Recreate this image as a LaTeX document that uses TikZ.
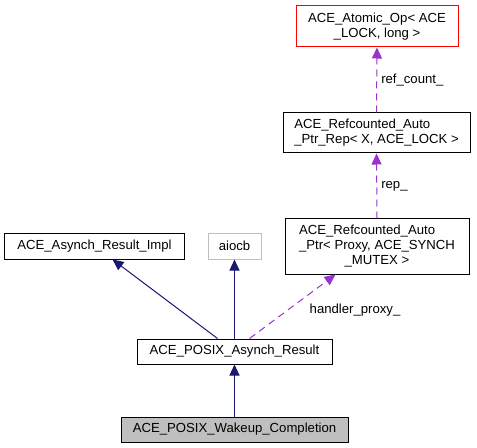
\documentclass[tikz,border=0pt]{standalone}
\usepackage{fontspec}
\setmainfont{Liberation Sans}
\usetikzlibrary{arrows.meta}
\definecolor{edgeblue}{HTML}{191970}
\definecolor{edgepurple}{HTML}{9A32CD}
\definecolor{boxgray}{HTML}{BFBFBF}
\begin{document}
\begin{tikzpicture}[x=1bp,y=-1bp,
  every node/.style={font=\fontsize{13.2}{15}\selectfont},
  cls/.style={draw=black,line width=1bp,fill=white,inner sep=0pt,minimum width=#1,align=center},
  inh/.style={draw=edgeblue,line width=1bp,-{Triangle[length=11bp,width=10bp]}},
  usg/.style={draw=edgepurple,line width=1bp,dash pattern=on 7bp off 5bp,-{Triangle[length=11bp,width=10bp]}},
  lbl/.style={inner sep=0pt}]
\useasboundingbox (0,0) rectangle (477,448);
\node[cls=162bp,draw=red,minimum height=41bp] (atomic) at (377,26.5) {ACE\_Atomic\_Op< ACE\\\_LOCK, long >};
\node[cls=187bp,minimum height=40bp] (rep) at (376.5,133) {\begin{tabular}{@{}l@{}}ACE\_Refcounted\_Auto\\\_Ptr\_Rep< X, ACE\_LOCK >\end{tabular}};
\node[cls=184bp,minimum height=55bp] (proxy) at (377,246.5) {\begin{tabular}{@{}l@{}}ACE\_Refcounted\_Auto\\\_Ptr< Proxy, ACE\_SYNCH\\\multicolumn{1}{@{}c@{}}{\_MUTEX >}\end{tabular}};
\node[cls=179bp,minimum height=26bp] (impl) at (94.5,246) {ACE\_Asynch\_Result\_Impl};
\node[cls=53bp,draw=boxgray,minimum height=26bp] (aiocb) at (234.5,246) {aiocb};
\node[cls=195bp,minimum height=25bp] (posix) at (234.5,351.5) {ACE\_POSIX\_Asynch\_Result};
\node[cls=227bp,fill=boxgray,minimum height=25bp] (wakeup) at (234.5,429.5) {ACE\_POSIX\_Wakeup\_Completion};
\draw[inh] ([xshift=81bp]posix.north west) -- ([xshift=108bp]impl.south west);
\draw[inh] (posix.north) -- (aiocb.south);
\draw[inh] (wakeup.north) -- (posix.south);
\draw[usg] ([xshift=113bp]posix.north west) -- ([xshift=51bp]proxy.south west) node[pos=0.45,right=21bp,lbl] (lhp) {handler\_proxy\_};
\draw[usg] (proxy.north) -- (rep.south) node[midway,right=4bp,lbl] (lrep) {rep\_};
\draw[usg] (rep.north) -- (atomic.south) node[midway,right=4bp,lbl] (lref) {ref\_count\_};
\end{tikzpicture}
\end{document}
